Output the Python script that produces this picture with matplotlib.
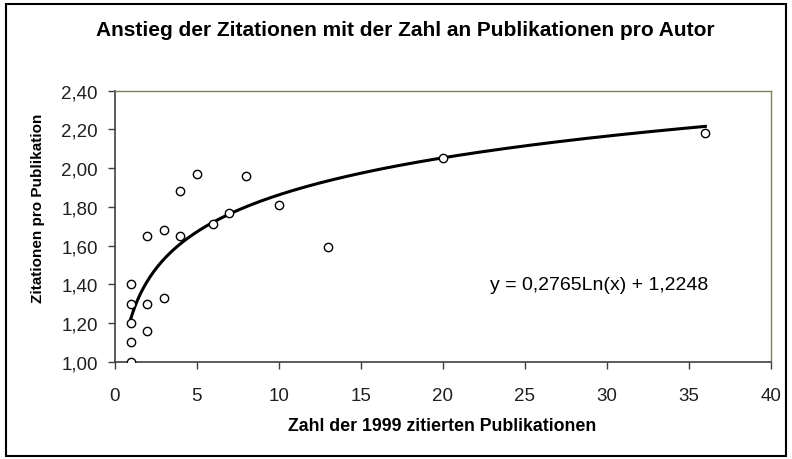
import numpy as np
import matplotlib
matplotlib.use('Agg')
import matplotlib.pyplot as plt
from matplotlib.ticker import FuncFormatter
from matplotlib.patches import Rectangle

plt.rcParams['font.family'] = ['Liberation Sans', 'DejaVu Sans']

# Publikationen pro Autor (x) und Zitationen pro Publikation (y)
pubs = [1, 1, 1, 1, 1, 2, 2, 2, 3, 3, 4, 4, 5, 6, 7, 8, 10, 13, 20, 36]
cites = [1.00, 1.10, 1.20, 1.30, 1.40, 1.16, 1.30, 1.65, 1.33, 1.68,
         1.65, 1.88, 1.97, 1.71, 1.77, 1.96, 1.81, 1.59, 2.05, 2.18]

# logarithmische Trendlinie (Excel)
coef_a = 0.2765
coef_b = 1.2248

fig = plt.figure(figsize=(7.92, 4.6), dpi=100)
ax = fig.add_axes([0.1446, 0.2115, 0.8289, 0.5892])

xs = np.linspace(min(pubs), max(pubs), 300)
ax.plot(xs, coef_a * np.log(xs) + coef_b, color='black', lw=2.2, zorder=2)
ax.plot(pubs, cites, 'o', ms=6, mfc='white', mec='black', mew=1.0, zorder=3)

ax.set_xlim(0, 40)
ax.set_ylim(1.0, 2.4)
ax.set_xticks(np.arange(0, 41, 5))
ax.set_yticks(np.arange(1.0, 2.41, 0.2))
ax.yaxis.set_major_formatter(FuncFormatter(lambda v, p: ('%.2f' % v).replace('.', ',')))
ax.tick_params(direction='out', length=5, width=1, colors='#404040',
               labelsize=13.5, labelcolor='#202020')
ax.tick_params(axis='x', pad=13)
ax.tick_params(axis='y', pad=7)

for side in ['left', 'bottom']:
    ax.spines[side].set_color('#404040')
    ax.spines[side].set_linewidth(1.2)
for side in ['top', 'right']:
    ax.spines[side].set_color('#808060')
    ax.spines[side].set_linewidth(1.0)

ax.text(36.2, 1.40, 'y = 0,2765Ln(x) + 1,2248', ha='right', va='center', fontsize=14)

fig.text(405 / 792, 1 - 31 / 460, 'Anstieg der Zitationen mit der Zahl an Publikationen pro Autor',
         ha='center', va='center', fontsize=15, fontweight='bold')
fig.text(442 / 792, 1 - 427 / 460, 'Zahl der 1999 zitierten Publikationen',
         ha='center', va='center', fontsize=12.8, fontweight='bold')
fig.text(38 / 792, 1 - 208 / 460, 'Zitationen pro Publikation',
         ha='center', va='center', rotation=90, fontsize=11, fontweight='bold')

# Rahmen um das Diagramm
fig.patches.append(Rectangle((6 / 792, 3 / 460), 780 / 792, 452 / 460, transform=fig.transFigure,
                             fill=False, edgecolor='black', lw=1.5))

fig.savefig('out.png', dpi=100)
